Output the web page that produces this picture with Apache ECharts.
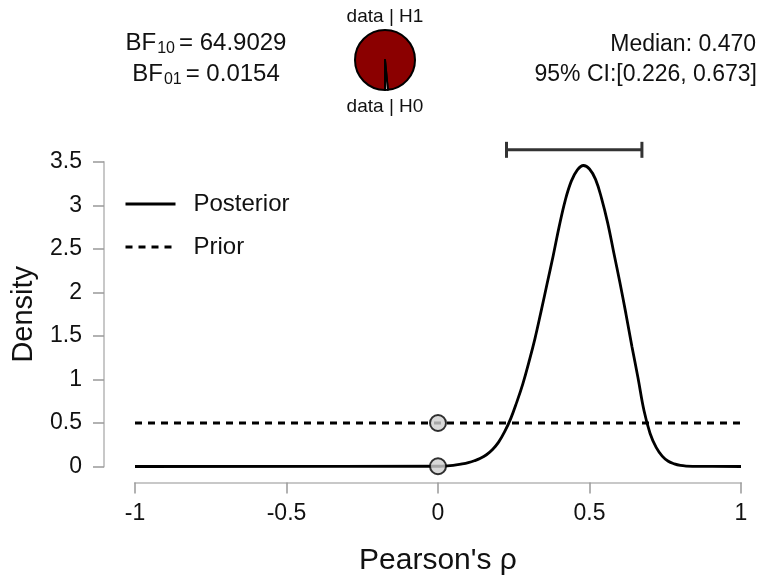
<!DOCTYPE html>
<html>
<head>
<meta charset="utf-8">
<title>Bayesian Pearson correlation</title>
<script src="https://cdn.jsdelivr.net/npm/echarts@6/dist/echarts.min.js"></script>
<style>
  html, body { margin: 0; padding: 0; background: #fff; }
  #chart { width: 765px; height: 584px; }
</style>
</head>
<body>
<div id="chart"></div>
<script>
// data
var rhoGrid = [-1, 0, 0.02, 0.04, 0.06, 0.08, 0.1, 0.12, 0.14, 0.16, 0.18, 0.2, 0.22, 0.24, 0.26, 0.28,
  0.3, 0.32, 0.34, 0.36, 0.38, 0.4, 0.42, 0.44, 0.46, 0.48, 0.5, 0.52, 0.54, 0.56, 0.58, 0.6,
  0.62, 0.64, 0.66, 0.68, 0.7, 0.72, 0.74, 0.76, 0.78, 0.8, 0.82, 0.86, 1];
var posteriorDensity = [0, 0.003, 0.006, 0.011, 0.019, 0.03, 0.045, 0.066, 0.094, 0.135, 0.195, 0.28, 0.4, 0.55, 0.74, 0.95,
  1.2, 1.47, 1.78, 2.1, 2.42, 2.76, 3.06, 3.28, 3.41, 3.46, 3.42, 3.3, 3.08, 2.8, 2.46, 2.12,
  1.76, 1.38, 1.02, 0.64, 0.38, 0.22, 0.12, 0.06, 0.03, 0.012, 0.005, 0.001, 0];
var priorRho = [-1, 1];
var priorDensity = [0.5, 0.5];
var nullPointRho = [0, 0];
var nullPointDensity = [0.5, 0.003];
var ciBounds = [0.226, 0.673];
var medianRho = 0.470;
var bf10 = 64.9029;
var bf01 = 0.0154;
var xTicks = [-1, 1, 0.5];     // min, max, interval
var yTicks = [0, 3.5, 0.5];

(function () {
  var myChart = echarts.init(document.getElementById("chart"));

  var ciLevel = 3.64; // height of the interval bar above the plot
  var font = "Liberation Sans, Arial, sans-serif";

  function pairs(xs, ys) {
    return xs.map(function (x, i) { return [x, ys[i]]; });
  }

  // BF text with a subscript
  function bfText(sub, value, y) {
    return {
      type: "text",
      x: 206, y: y,
      style: {
        text: "{a|BF}{s|" + sub + "}{a|= " + value + "}",
        align: "center",
        fill: "#111",
        font: "24px " + font,
        rich: {
          a: { fontSize: 24, lineHeight: 28, fontFamily: font, fill: "#111" },
          s: { fontSize: 16, lineHeight: 16, verticalAlign: "bottom", fontFamily: font, fill: "#111", padding: [0, 4, 0, 1] }
        }
      }
    };
  }

  var option = {
    backgroundColor: "#fff",
    animation: false,
    textStyle: { fontFamily: font },
    grid: { left: 135, right: 24, top: 162, bottom: 117.5 },
    legend: {
      left: 124,
      top: 192,
      padding: 0,
      orient: "vertical",
      itemWidth: 50,
      itemHeight: 14,
      itemGap: 19,
      data: ["Posterior", "Prior"],
      itemStyle: { opacity: 0 },
      lineStyle: { width: 3 },
      textStyle: { fontSize: 24, color: "#111", padding: [0, 0, 0, 13] },
      selectedMode: false
    },
    xAxis: {
      type: "value",
      min: xTicks[0],
      max: xTicks[1],
      interval: xTicks[2],
      offset: 16,
      name: "Pearson's ρ",
      nameLocation: "middle",
      nameGap: 63,
      nameTextStyle: { fontSize: 30, color: "#111" },
      axisLine: { show: true, onZero: false, lineStyle: { color: "#c8c8c8", width: 2 } },
      axisTick: { show: true, length: 11, lineStyle: { color: "#999", width: 1.5 } },
      axisLabel: { fontSize: 23, color: "#111", margin: 20 },
      splitLine: { show: false }
    },
    yAxis: {
      type: "value",
      position: "left",
      min: yTicks[0],
      max: yTicks[1],
      interval: yTicks[2],
      offset: 31,
      name: "Density",
      nameLocation: "middle",
      nameGap: 66,
      nameTextStyle: { fontSize: 29, color: "#111" },
      axisLine: { show: true, onZero: false, lineStyle: { color: "#c8c8c8", width: 2 } },
      axisTick: { show: true, length: 11, lineStyle: { color: "#999", width: 1.5 } },
      axisLabel: { fontSize: 23, color: "#111", margin: 22 },
      splitLine: { show: false }
    },
    series: [
      {
        name: "Prior",
        type: "line",
        data: pairs(priorRho, priorDensity),
        symbol: "none",
        silent: true,
        lineStyle: { color: "#000", width: 2.8, type: [7, 6] },
        itemStyle: { color: "#000" }
      },
      {
        name: "Posterior",
        type: "line",
        data: pairs(rhoGrid, posteriorDensity),
        symbol: "none",
        smooth: 0.4,
        silent: true,
        lineStyle: { color: "#000", width: 2.8 },
        itemStyle: { color: "#000" }
      },
      {
        // credible interval bar
        type: "line",
        data: pairs(ciBounds, [ciLevel, ciLevel]),
        clip: false,
        silent: true,
        symbol: "rect",
        symbolSize: [3, 16],
        lineStyle: { color: "#333", width: 3 },
        itemStyle: { color: "#333" }
      },
      {
        type: "scatter",
        data: pairs(nullPointRho, nullPointDensity),
        symbolSize: 16,
        silent: true,
        z: 5,
        itemStyle: { color: "#cfcfcf", borderColor: "#000", borderWidth: 2 }
      },
      {
        type: "pie",
        center: [385, 60],
        radius: 30,
        startAngle: 270,
        silent: true,
        label: { show: false },
        labelLine: { show: false },
        itemStyle: { borderColor: "#000", borderWidth: 2 },
        data: [
          { value: bf10, name: "data | H1", itemStyle: { color: "#8b0000" } },
          { value: 1, name: "data | H0", itemStyle: { color: "#fff" } }
        ]
      }
    ],
    graphic: [
      bfText("10", bf10.toFixed(4), 29),
      bfText("01", bf01.toFixed(4), 60),
      {
        type: "text",
        x: 385, y: 17,
        style: { text: "data | H1", align: "center", verticalAlign: "middle", fontSize: 19, fontFamily: font, fill: "#111" }
      },
      {
        type: "text",
        x: 385, y: 107,
        style: { text: "data | H0", align: "center", verticalAlign: "middle", fontSize: 19, fontFamily: font, fill: "#111" }
      },
      {
        type: "text",
        x: 756, y: 45,
        style: { text: "Median: " + medianRho.toFixed(3), align: "right", verticalAlign: "middle", fontSize: 23, fontFamily: font, fill: "#111" }
      },
      {
        type: "text",
        x: 757, y: 75,
        style: {
          text: "95% CI:[" + ciBounds[0].toFixed(3) + ", " + ciBounds[1].toFixed(3) + "]",
          align: "right", verticalAlign: "middle", fontSize: 23, fontFamily: font, fill: "#111"
        }
      }
    ]
  };

  myChart.setOption(option);
  window.addEventListener("resize", function () {
    myChart.resize();
  });
})();
</script>
</body>
</html>
